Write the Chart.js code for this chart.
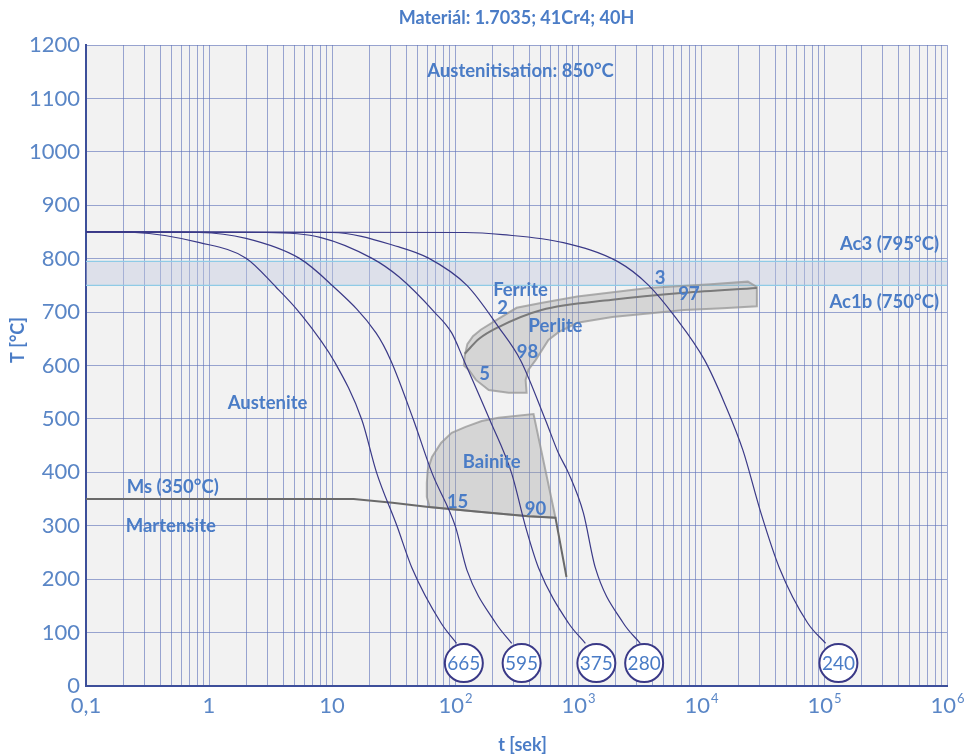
<!DOCTYPE html>
<html>
<head>
<meta charset="utf-8">
<script src="https://cdn.jsdelivr.net/npm/chart.js@4.4.1/dist/chart.umd.min.js"></script>
<style>
  body { margin: 0; background: #fff; }
  canvas { display: block; }
</style>
</head>
<body>
<canvas id="cct" width="968" height="756"></canvas>
<script>
// cooling curves: [time in s, temperature in °C]
const curve665 = [[0.1, 850], [0.25, 849], [0.84, 830], [2.0, 801], [3.5, 747], [5.4, 700], [10.6, 605], [17.5, 498], [23, 400], [33.7, 300], [44.7, 221], [77, 118], [103, 80]];
const curve595 = [[0.1, 850], [0.84, 849], [2.0, 838], [5.4, 801], [9.5, 755], [22.8, 661], [30, 610], [46, 498], [65, 399], [101, 298], [125, 217], [214, 118], [289, 80]];
const curve375 = [[0.1, 850], [2.9, 849], [8, 840], [21, 801], [35, 766], [68, 700], [94, 661], [118, 610], [192, 498], [288, 399], [375, 298], [478, 221], [836, 118], [1148, 80]];
const curve280 = [[0.1, 850], [10, 849], [35, 822], [61, 801], [125, 750], [226, 672], [341, 610], [544, 498], [693, 436], [836, 399], [1106, 324], [1384, 221], [2333, 118], [3206, 80]];
const curve240 = [[0.1, 850], [120, 849], [244, 845], [760, 830], [2125, 794], [3720, 751], [6157, 691], [10700, 610], [15500, 530], [21870, 442], [30700, 324], [43400, 221], [73620, 118], [103000, 80]];

// hardness values in the circles at the end of each curve
const hardness = [665, 595, 375, 280, 240];
const hardnessTime = [118, 348, 1410, 3450, 131000];
const hardnessTemp = 43;

// transformation temperatures
const ac3 = 795;
const ac1b = 750;
const msLine = [[0.1, 350], [15, 350], [31, 343], [61, 335], [156, 326], [396, 318], [656, 315], [806, 204]];

// phase areas (closed outlines)
const pearliteArea = [[118, 600], [120, 618], [126, 640], [140, 655], [162, 667], [220, 686], [317, 708], [500, 717], [988, 729], [3720, 745], [12000, 752], [24040, 757], [28460, 747], [28460, 711], [15000, 707], [7280, 704], [1900, 691], [988, 680], [700, 663], [575, 648], [452, 610], [396, 592], [375, 573], [382, 549], [273, 549], [188, 554], [148, 573], [129, 592], [118, 600]];
const ferritePearliteLine = [[120, 622], [157, 650], [226, 672], [505, 704], [1900, 723], [7280, 736], [28460, 745]];
const bainiteArea = [[62, 335], [59, 354], [59, 380], [60, 404], [65, 429], [77, 455], [94, 474], [122, 485], [165, 496], [226, 502], [435, 509], [656, 315], [396, 318], [156, 326], [62, 335]];

// text inside the plot: [text, time, temperature]
const phaseLabels = [
  ['Austenitisation: 850°C', 341, 1152],
  ['Ferrite', 341, 742],
  ['2', 244, 708],
  ['Perlite', 656, 674],
  ['98', 389, 625],
  ['5', 174, 584],
  ['3', 4660, 764],
  ['97', 8000, 734],
  ['Austenite', 2.99, 530],
  ['Bainite', 199, 419],
  ['15', 105, 345],
  ['90', 452, 331],
  ['Ms (350°C)', 0.507, 373],
  ['Martensite', 0.489, 300]
];
const acLabels = [['Ac3 (795°C)', 828], ['Ac1b (750°C)', 719]];

const xDecades = [-1, 0, 1, 2, 3, 4, 5, 6];

const navy = '#3a3987';
const labelBlue = '#4a7cc6';
const tickBlue = '#5a86c6';
const gridColor = 'rgba(95,115,185,0.62)';

const pts = (arr) => arr.map(([x, y]) => ({ x, y }));

const coolingStyle = (data) => ({
  data: pts(data),
  showLine: true,
  borderColor: navy,
  borderWidth: 1.2,
  pointRadius: 0,
  cubicInterpolationMode: 'monotone',
  fill: false,
  order: 2
});

const backgroundPlugin = {
  id: 'plotBg',
  beforeDraw(chart) {
    const { ctx, chartArea: a } = chart;
    ctx.save();
    ctx.fillStyle = '#ffffff';
    ctx.fillRect(0, 0, chart.width, chart.height);
    ctx.fillStyle = '#f2f2f2';
    ctx.fillRect(a.left, a.top, a.right - a.left, a.bottom - a.top);
    ctx.restore();
  }
};

const textPlugin = {
  id: 'texts',
  afterDatasetsDraw(chart) {
    const { ctx, scales: { x, y }, chartArea: a } = chart;
    ctx.save();
    ctx.textAlign = 'center';
    ctx.textBaseline = 'middle';

    // hardness in circles
    ctx.font = '19px Lato';
    ctx.fillStyle = labelBlue;
    hardness.forEach((h, i) => {
      ctx.fillText(String(h), x.getPixelForValue(hardnessTime[i]), y.getPixelForValue(hardnessTemp) + 1);
    });

    ctx.font = 'bold 18.5px Lato';
    phaseLabels.forEach(([txt, t, T]) => {
      ctx.fillText(txt, x.getPixelForValue(t), y.getPixelForValue(T));
    });
    ctx.textAlign = 'right';
    acLabels.forEach(([txt, T]) => {
      ctx.fillText(txt, a.right - 8, y.getPixelForValue(T));
    });
    ctx.restore();
  },
  afterDraw(chart) {
    const { ctx, scales: { x }, chartArea: a } = chart;
    ctx.save();
    ctx.fillStyle = labelBlue;
    ctx.textBaseline = 'middle';
    ctx.textAlign = 'center';
    ctx.font = 'bold 18px Lato';
    ctx.fillText('Materiál: 1.7035; 41Cr4; 40H', (a.left + a.right) / 2, 18);
    ctx.fillText('t [sek]', (a.left + a.right) / 2 + 6, 745);
    ctx.save();
    ctx.translate(18, 340);
    ctx.rotate(-Math.PI / 2);
    ctx.fillText('T [°C]', 0, 0);
    ctx.restore();

    // x tick labels with superscript exponents
    ctx.fillStyle = tickBlue;
    const ty = a.bottom + 20;
    xDecades.forEach((k) => {
      const px = x.getPixelForValue(Math.pow(10, k));
      ctx.font = '22px Lato';
      if (k < 2) {
        ctx.textAlign = 'center';
        ctx.fillText(k === -1 ? '0,1' : String(Math.pow(10, k)), px, ty);
      } else {
        const w1 = ctx.measureText('10').width;
        ctx.font = '13px Lato';
        const w2 = ctx.measureText(String(k)).width;
        const left = px - (w1 + w2) / 2;
        ctx.textAlign = 'left';
        ctx.font = '22px Lato';
        ctx.fillText('10', left, ty);
        ctx.font = '13px Lato';
        ctx.fillText(String(k), left + w1 + 1, ty - 7);
      }
    });
    ctx.restore();
  }
};

const xTickValues = [];
for (let k = -1; k < 6; k++) {
  for (let m = 1; m <= 9; m++) xTickValues.push(m * Math.pow(10, k));
}
xTickValues.push(1e6);

new Chart(document.getElementById('cct'), {
  type: 'scatter',
  data: {
    datasets: [
      {
        data: hardness.map((h, i) => ({ x: hardnessTime[i], y: hardnessTemp })),
        pointRadius: 19,
        pointBackgroundColor: '#ffffff',
        pointBorderColor: navy,
        pointBorderWidth: 2,
        showLine: false,
        order: 0
      },
      coolingStyle(curve665),
      coolingStyle(curve595),
      coolingStyle(curve375),
      coolingStyle(curve280),
      coolingStyle(curve240),
      {
        data: pts(msLine),
        showLine: true,
        borderColor: '#6a6a6a',
        borderWidth: 2,
        pointRadius: 0,
        fill: false,
        order: 3
      },
      {
        data: pts(ferritePearliteLine),
        showLine: true,
        borderColor: '#7a7a7a',
        borderWidth: 2,
        pointRadius: 0,
        cubicInterpolationMode: 'monotone',
        fill: false,
        order: 4
      },
      {
        data: pts(pearliteArea),
        showLine: true,
        borderColor: 'rgba(150,150,150,0.75)',
        backgroundColor: 'rgba(160,160,160,0.36)',
        borderWidth: 2,
        pointRadius: 0,
        tension: 0,
        fill: 'shape',
        order: 5
      },
      {
        data: pts(bainiteArea),
        showLine: true,
        borderColor: 'rgba(150,150,150,0.75)',
        backgroundColor: 'rgba(160,160,160,0.36)',
        borderWidth: 2,
        pointRadius: 0,
        tension: 0,
        fill: 'shape',
        order: 5
      },
      {
        data: [{ x: 0.1, y: ac3 }, { x: 1e6, y: ac3 }],
        showLine: true,
        borderColor: '#8fcbe6',
        borderWidth: 1.2,
        pointRadius: 0,
        fill: false,
        order: 6
      },
      {
        data: [{ x: 0.1, y: ac1b }, { x: 1e6, y: ac1b }],
        showLine: true,
        borderColor: '#8fcbe6',
        backgroundColor: 'rgba(190,198,222,0.4)',
        borderWidth: 1.2,
        pointRadius: 0,
        fill: '-1',
        order: 6
      }
    ]
  },
  options: {
    responsive: false,
    animation: false,
    events: [],
    layout: { padding: { top: 45, right: 16, left: 0, bottom: 0 } },
    plugins: {
      legend: { display: false },
      tooltip: { enabled: false },
      title: { display: false }
    },
    scales: {
      x: {
        type: 'logarithmic',
        min: 0.1,
        max: 1e6,
        afterBuildTicks(scale) {
          scale.ticks = xTickValues.map((v) => ({ value: v }));
        },
        afterFit(scale) { scale.height = 70; },
        ticks: { display: false, autoSkip: false },
        grid: { color: gridColor, lineWidth: 1, drawTicks: false },
        border: { display: true, color: '#3d4f9a', width: 2 }
      },
      y: {
        min: 0,
        max: 1200,
        afterFit(scale) { scale.width = 86; },
        ticks: {
          stepSize: 100,
          color: tickBlue,
          padding: 6,
          font: { family: 'Lato', size: 22 },
          callback: (v) => String(v)
        },
        grid: { color: gridColor, lineWidth: 1, drawTicks: false },
        border: { display: true, color: '#3d4f9a', width: 2 }
      }
    }
  },
  plugins: [backgroundPlugin, textPlugin]
});
</script>
</body>
</html>
